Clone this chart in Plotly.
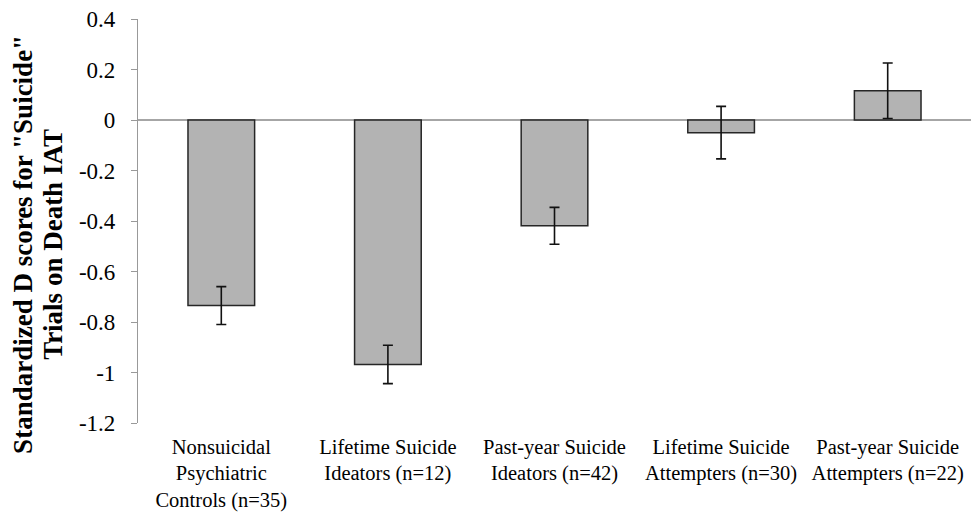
import plotly.graph_objects as go

categories = [
    "Nonsuicidal<br>Psychiatric<br>Controls (n=35)",
    "Lifetime Suicide<br>Ideators (n=12)",
    "Past-year Suicide<br>Ideators (n=42)",
    "Lifetime Suicide<br>Attempters (n=30)",
    "Past-year Suicide<br>Attempters (n=22)",
]
means = [-0.735, -0.968, -0.419, -0.050, 0.116]
errors = [0.075, 0.076, 0.073, 0.104, 0.110]
y_ticks = [0.4, 0.2, 0, -0.2, -0.4, -0.6, -0.8, -1, -1.2]
y_title_lines = ['Standardized D scores for "Suicide"', 'Trials on Death IAT']

font_family = "Liberation Serif"

fig = go.Figure()
fig.add_trace(go.Bar(
    x=categories,
    y=means,
    width=0.4,
    marker=dict(color="#b3b3b3", line=dict(color="#262626", width=1.5)),
    error_y=dict(type="data", array=errors, visible=True,
                 color="#111111", thickness=1.6, width=5),
))

fig.update_layout(
    width=971, height=506,
    margin=dict(l=130, r=8, t=11, b=91),
    paper_bgcolor="white", plot_bgcolor="white",
    showlegend=False,
    font=dict(family=font_family, size=20.5, color="black"),
    xaxis=dict(
        automargin=False,
        showline=False, showgrid=False, zeroline=False, ticks="",
        ticklabelstandoff=9,
        tickfont=dict(family=font_family, size=20.5, color="black"),
    ),
    yaxis=dict(
        automargin=False,
        range=[-1.2, 0.4],
        tickvals=y_ticks,
        ticktext=[("%g" % v) for v in y_ticks],
        ticklabeloverflow="allow",
        showline=True, linecolor="#999999", linewidth=1.2,
        ticks="outside", ticklen=6, tickcolor="#999999", tickwidth=1.2,
        ticklabelstandoff=11,
        showgrid=False,
        zeroline=True, zerolinecolor="#a6a6a6", zerolinewidth=1.5,
        tickfont=dict(family=font_family, size=23, color="black"),
    ),
    annotations=[
        dict(text=y_title_lines[0], textangle=-90,
             xref="paper", yref="paper", x=-0.138, y=0.441,
             xanchor="center", yanchor="middle", showarrow=False,
             font=dict(family=font_family, size=27, color="black", weight="bold")),
        dict(text=y_title_lines[1], textangle=-90,
             xref="paper", yref="paper", x=-0.102, y=0.441,
             xanchor="center", yanchor="middle", showarrow=False,
             font=dict(family=font_family, size=27, color="black", weight="bold")),
    ],
)

fig.write_html("out.html")
